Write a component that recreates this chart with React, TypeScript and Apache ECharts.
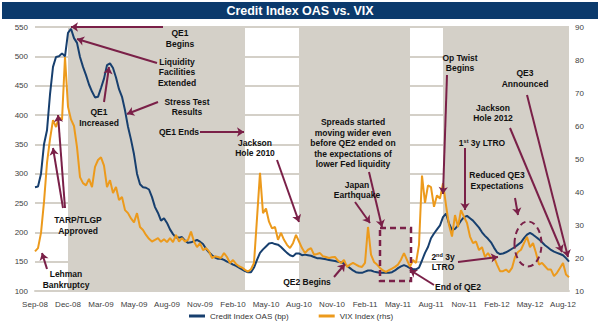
import React, { useEffect, useRef } from 'react';
import * as echarts from 'echarts';

// x-axis tick labels (one every 11 weekly points)
const tickLabels = ['Sep-08', 'Dec-08', 'Mar-09', 'May-09', 'Aug-09', 'Nov-09', 'Feb-10', 'May-10', 'Aug-10', 'Nov-10', 'Feb-11', 'May-11', 'Aug-11', 'Nov-11', 'Feb-12', 'May-12', 'Aug-12'];
const labelEvery = 11;

// Credit Index OAS (bp), weekly readings
const oasValues = [
  277, 278, 300, 350, 374, 435, 482, 499, 500, 505,
  500, 540, 547, 531, 523, 499, 482, 468, 452, 440,
  430, 431, 446, 462, 485, 488, 480, 464, 444, 431,
  408, 380, 358, 333, 300, 282, 277, 276, 273, 260,
  243, 233, 220, 224, 216, 205, 197, 191, 191, 192,
  186, 182, 183, 185, 187, 184, 180, 172, 166, 161,
  157, 155, 155, 153, 150, 148, 145, 143, 140, 137,
  134, 132, 132, 140, 153, 165, 171, 176, 181, 182,
  180, 179, 175, 170, 165, 161, 159, 164, 164, 161,
  162, 161, 160, 158, 156, 156, 155, 154, 153, 152,
  151, 150, 149, 147, 143, 139, 135, 132, 131, 131,
  133, 135, 135, 133, 132, 131, 131, 131, 131, 132,
  135, 139, 142, 144, 142, 139, 137, 137, 140, 152,
  165, 175, 190, 198, 205, 212, 226, 232, 215, 204,
  206, 212, 220, 226, 228, 224, 220, 214, 208, 200,
  194, 189, 183, 174, 166, 163, 164, 166, 169, 172,
  175, 179, 183, 190, 196, 199, 196, 192, 188, 183,
  178, 174, 170, 167, 165, 163, 161, 156, 150,
];

// VIX Index (rhs), weekly readings
const vixValues = [
  22, 23, 27.6, 37, 48.8, 56, 61.8, 59.7, 62.7, 61.8,
  80.9, 65.8, 62, 60, 53.6, 44.5, 42.7, 42, 44, 41.5,
  47.6, 49.7, 50.5, 48, 41.5, 43.6, 39.7, 41.5, 37.6, 38.5,
  34.5, 33.6, 32, 30.8, 33.6, 29.4, 28.5, 27, 25.8, 25,
  25.5, 26, 24.9, 25.7, 24.8, 26, 24.8, 27, 25, 26,
  25, 25.5, 28, 25, 23.3, 24.5, 22.4, 23, 22, 20,
  20.5, 20.3, 20, 21.5, 20.3, 18.5, 19.4, 18.2, 17.5, 17.1,
  16.4, 15.9, 16.6, 18.5, 32, 45.8, 33.6, 35, 31, 29,
  29.4, 25.5, 27.6, 25.5, 24, 23, 24.5, 27, 25, 23,
  21.5, 22.5, 23, 21, 21.2, 21.5, 20.5, 20.3, 20, 20.2,
  20.3, 19.2, 18.5, 19.4, 17.3, 18, 18.5, 18, 17.5, 17.3,
  18.5, 29.4, 21, 18.8, 18, 17, 16.2, 15.8, 16.3, 16.8,
  17.3, 18, 19.5, 21.5, 19.4, 17.3, 19.4, 18.5, 24, 45,
  36.7, 42, 41.5, 35.5, 39, 38, 42.7, 36, 30, 26.5,
  33, 29.4, 34.5, 32.5, 30.6, 26.5, 24.5, 25, 22.4, 23.3,
  20.3, 21.5, 20, 20.3, 18, 16, 16, 16.5, 15.7, 17,
  20.3, 21.8, 22.5, 24.5, 26.4, 23.3, 24.5, 21.5, 18, 18.5,
  17.5, 16.5, 16.5, 14.5, 15.5, 17, 18.5, 15, 14.2,
];

const categories = oasValues.map((_, i) => String(i));

// Fed easing periods (start index, end index)
const qePeriods = [[11, 70], [88, 125], [136, 178]];

const FONT = '"Liberation Sans", Arial, sans-serif';
const MAROON = '#7a2048';
const NAVY = '#173f6e';
const ORANGE = '#ec9a1c';
const SHADE = '#d4d0c8';

// annotation arrows: [x1, y1, x2, y2] (arrow head at second point)
const arrows = [
  [163, 27, 71, 27],
  [157, 63, 77, 39],
  [104, 102, 109, 67],
  [158, 102, 127, 114],
  [200, 132, 244, 132],
  [277, 160, 299, 222],
  [369, 172, 382, 227],
  [355, 202, 370, 223],
  [334, 277, 345, 264],
  [434, 285, 410, 270],
  [447, 75, 443, 194],
  [527, 95, 568, 257],
  [510, 128, 562, 252],
  [465, 148, 465, 210],
  [515, 198, 518, 215],
  [458, 262, 498, 257],
  [63, 208, 53, 148],
  [65, 208, 58, 115],
  [47, 269, 42, 253],
];

// annotation texts: [text, centerX, centerY]
const notes: [string, number, number][] = [
  ['QE1\nBegins', 180, 38.5],
  ['Liquidity\nFacilities\nExtended', 177, 72],
  ['QE1\nIncreased', 99, 117.5],
  ['Stress Test\nResults', 187, 107],
  ['QE1 Ends', 179, 132],
  ['Jackson\nHole 2010', 255, 148],
  ['Spreads started\nmoving wider even\nbefore QE2 ended on\nthe expectations of\nlower Fed liquidity', 353, 143],
  ['Japan\nEarthquake', 357, 190],
  ['QE2 Begins', 307, 282],
  ['End of QE2', 458, 287],
  ['Op Twist\nBegins', 460, 63],
  ['QE3\nAnnounced', 525, 78.5],
  ['Jackson\nHole 2012', 493, 113],
  ['{n|1}{s|st}{n| 3y LTRO}', 482, 143],
  ['Reduced QE3\nExpectations', 497, 180.5],
  ['{n|2}{s|nd}{n| 3y}\n{n|LTRO}', 443, 262],
  ['TARP/TLGP\nApproved', 78, 225.5],
  ['Lehman\nBankruptcy', 66, 279.5],
];

export default function App() {
  const ref = useRef<HTMLDivElement>(null);
  useEffect(() => {
    document.body.style.margin = '0';
    const chart = echarts.init(ref.current!, null, { renderer: 'svg' });
    const textEls = notes.map(([t, x, y]) => ({
      type: 'text',
      x,
      y,
      z: 100,
      silent: true,
      style: {
        text: t,
        fill: '#111',
        fontFamily: FONT,
        fontWeight: 'bold',
        fontSize: 8.5,
        lineHeight: 10.5,
        align: 'center',
        verticalAlign: 'middle',
        rich: {
          n: { fontFamily: FONT, fontWeight: 'bold', fontSize: 8.5, fill: '#111', lineHeight: 10.5 },
          s: { fontFamily: FONT, fontWeight: 'bold', fontSize: 5.5, fill: '#111', verticalAlign: 'top', lineHeight: 10.5 },
        },
      },
    }));
    chart.setOption({
      animation: false,
      textStyle: { fontFamily: FONT },
      grid: { left: 35, right: 31, top: 27, bottom: 34 },
      legend: {
        data: ['Credit Index OAS (bp)', 'VIX Index (rhs)'],
        left: 184,
        top: 307,
        itemWidth: 16,
        itemHeight: 3,
        itemGap: 30,
        icon: 'rect',
        textStyle: { fontSize: 8, color: '#333', fontFamily: FONT },
      },
      xAxis: {
        type: 'category',
        data: categories,
        boundaryGap: false,
        axisTick: { show: false },
        axisLine: { lineStyle: { color: SHADE, width: 2 } },
        axisLabel: {
          interval: labelEvery - 1,
          fontSize: 8,
          color: '#404040',
          margin: 9,
          formatter: (_: string, i: number) => tickLabels[Math.round(i / labelEvery)] ?? '',
        },
        splitLine: { show: false },
      },
      yAxis: [
        {
          type: 'value',
          min: 100,
          max: 550,
          interval: 50,
          axisLine: { show: false },
          axisTick: { show: false },
          axisLabel: { fontSize: 8, color: '#404040', margin: 7 },
          splitLine: { lineStyle: { color: SHADE, width: 2 } },
        },
        {
          type: 'value',
          min: 10,
          max: 90,
          interval: 10,
          axisLine: { show: false },
          axisTick: { show: false },
          axisLabel: { fontSize: 8, color: '#404040', margin: 6 },
          splitLine: { show: false },
        },
      ],
      series: [
        {
          name: 'Credit Index OAS (bp)',
          type: 'line',
          data: oasValues,
          yAxisIndex: 0,
          showSymbol: false,
          symbol: 'none',
          lineStyle: { color: NAVY, width: 2 },
          itemStyle: { color: NAVY },
          z: 3,
          markArea: {
            silent: true,
            itemStyle: { color: SHADE },
            data: qePeriods.map(([a, b]) => [{ xAxis: a }, { xAxis: b }]),
          },
        },
        {
          name: 'VIX Index (rhs)',
          type: 'line',
          data: vixValues,
          yAxisIndex: 1,
          showSymbol: false,
          symbol: 'none',
          lineStyle: { color: ORANGE, width: 2 },
          itemStyle: { color: ORANGE },
          z: 4,
          markLine: {
            silent: true,
            symbol: ['none', 'arrow'],
            symbolSize: 7,
            label: { show: false },
            lineStyle: { color: MAROON, width: 2, type: 'solid' },
            emphasis: { disabled: true },
            data: arrows.map(([x1, y1, x2, y2]) => [{ x: x1, y: y1 }, { x: x2, y: y2 }]),
          },
        },
      ],
      graphic: [
        {
          type: 'rect',
          z: 100,
          silent: true,
          shape: { x: 2, y: 2, width: 596, height: 17 },
          style: { fill: '#0b3a6c' },
        },
        {
          type: 'text',
          z: 101,
          x: 300,
          y: 11,
          silent: true,
          style: {
            text: 'Credit Index OAS vs. VIX',
            fill: '#fff',
            fontFamily: FONT,
            fontWeight: 'bold',
            fontSize: 12.5,
            align: 'center',
            verticalAlign: 'middle',
          },
        },
        {
          type: 'rect',
          z: 100,
          silent: true,
          shape: { x: 380, y: 228, width: 31, height: 53 },
          style: { fill: 'none', stroke: MAROON, lineWidth: 2.5, lineDash: [6, 4] },
        },
        {
          type: 'ellipse',
          z: 100,
          silent: true,
          shape: { cx: 528, cy: 244, rx: 13.5, ry: 22.5 },
          style: { fill: 'none', stroke: MAROON, lineWidth: 2, lineDash: [6, 4] },
        },
        ...textEls,
      ],
    });
    return () => chart.dispose();
  }, []);
  return <div ref={ref} style={{ width: 600, height: 325 }} />;
}
